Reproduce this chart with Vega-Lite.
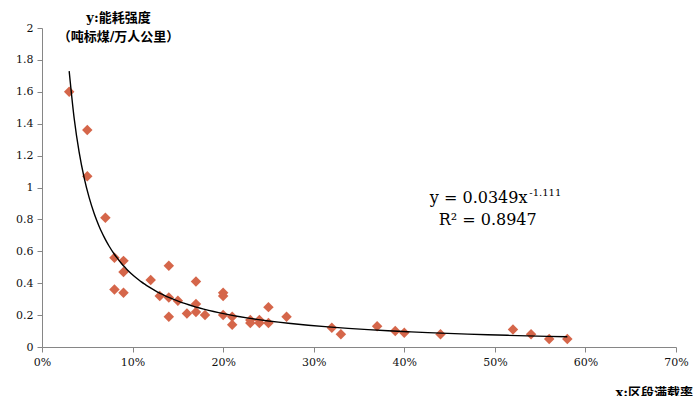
{
  "$schema": "https://vega.github.io/schema/vega-lite/v6.json",
  "width": 634,
  "height": 319,
  "autosize": "none",
  "padding": {"left": 42, "top": 28, "right": 17, "bottom": 49},
  "background": "white",
  "config": {
    "view": {"stroke": null},
    "font": "DejaVu Serif",
    "axis": {
      "grid": false,
      "domainColor": "#868686",
      "tickColor": "#868686",
      "labelFont": "DejaVu Serif",
      "labelFontSize": 11,
      "labelColor": "#111",
      "tickSize": 5,
      "labelFlush": false,
      "labelOverlap": false
    }
  },
  "datasets": {
    "pts": [
      {"x": 0.03, "y": 1.60}, {"x": 0.05, "y": 1.36}, {"x": 0.05, "y": 1.07}, {"x": 0.07, "y": 0.81},
      {"x": 0.08, "y": 0.56}, {"x": 0.08, "y": 0.36}, {"x": 0.09, "y": 0.54}, {"x": 0.09, "y": 0.47},
      {"x": 0.09, "y": 0.34}, {"x": 0.12, "y": 0.42}, {"x": 0.13, "y": 0.32}, {"x": 0.14, "y": 0.51},
      {"x": 0.14, "y": 0.31}, {"x": 0.14, "y": 0.19}, {"x": 0.15, "y": 0.29}, {"x": 0.16, "y": 0.21},
      {"x": 0.17, "y": 0.41}, {"x": 0.17, "y": 0.27}, {"x": 0.17, "y": 0.22}, {"x": 0.18, "y": 0.20},
      {"x": 0.20, "y": 0.34}, {"x": 0.20, "y": 0.32}, {"x": 0.20, "y": 0.20}, {"x": 0.21, "y": 0.19},
      {"x": 0.21, "y": 0.14}, {"x": 0.23, "y": 0.17}, {"x": 0.23, "y": 0.15}, {"x": 0.24, "y": 0.17},
      {"x": 0.24, "y": 0.15}, {"x": 0.25, "y": 0.25}, {"x": 0.25, "y": 0.15}, {"x": 0.27, "y": 0.19},
      {"x": 0.32, "y": 0.12}, {"x": 0.33, "y": 0.08}, {"x": 0.37, "y": 0.13}, {"x": 0.39, "y": 0.10},
      {"x": 0.40, "y": 0.09}, {"x": 0.44, "y": 0.08}, {"x": 0.52, "y": 0.11}, {"x": 0.54, "y": 0.08},
      {"x": 0.56, "y": 0.05}, {"x": 0.58, "y": 0.05}
    ],
    "notes": [
      {"x": 0.536, "y": 0.934, "label": "y = 0.0349x", "kind": "main"},
      {"x": 0.538, "y": 0.966, "label": "-1.111", "kind": "sup"},
      {"x": 0.438, "y": 0.796, "label": "R² = 0.8947", "kind": "r2"}
    ]
  },
  "layer": [
    {
      "data": {"name": "pts"},
      "mark": {"type": "point", "shape": "diamond", "filled": true, "size": 110, "color": "#D5664A", "opacity": 1},
      "encoding": {
        "x": {
          "field": "x", "type": "quantitative",
          "scale": {"domain": [0, 0.7], "nice": false, "zero": true},
          "axis": {
            "values": [0, 0.1, 0.2, 0.3, 0.4, 0.5, 0.6, 0.7],
            "tickCount": 20,
            "format": ".0%",
            "labelPadding": 4,
            "labelOverlap": false,
            "labelFlush": false,
            "title": "x:区段满载率",
            "titleFont": "DejaVu Serif, Noto Sans CJK SC",
            "titleFontWeight": "bold",
            "titleFontSize": 13,
            "titleColor": "#000",
            "titleAnchor": "start",
            "titleAlign": "left",
            "titleBaseline": "middle",
            "titleX": 573,
            "titleY": 45
          }
        },
        "y": {
          "field": "y", "type": "quantitative",
          "scale": {"domain": [0, 2], "nice": false},
          "axis": {
            "values": [0, 0.2, 0.4, 0.6, 0.8, 1, 1.2, 1.4, 1.6, 1.8, 2],
            "tickCount": 20,
            "format": ".1~f",
            "labelPadding": 4,
            "labelOverlap": false,
            "labelFlush": false,
            "title": ["y:能耗强度", "（吨标煤/万人公里）"],
            "titleFont": "DejaVu Serif, Noto Sans CJK SC",
            "titleFontWeight": "bold",
            "titleFontSize": 13,
            "titleColor": "#000",
            "titleAngle": 0,
            "titleAlign": "center",
            "titleBaseline": "middle",
            "titleLineHeight": 19,
            "titleX": 76,
            "titleY": -11
          }
        }
      }
    },
    {
      "data": {"name": "pts"},
      "transform": [
        {"regression": "y", "on": "x", "method": "pow", "extent": [0.03, 0.58]}
      ],
      "mark": {"type": "line", "color": "#000", "strokeWidth": 1.4, "interpolate": "monotone"},
      "encoding": {
        "x": {"field": "x", "type": "quantitative"},
        "y": {"field": "y", "type": "quantitative"}
      }
    },
    {
      "data": {"name": "notes"},
      "transform": [{"filter": "datum.kind == 'main'"}],
      "mark": {"type": "text", "align": "right", "baseline": "middle", "fontSize": 16, "font": "DejaVu Serif", "color": "#000"},
      "encoding": {
        "x": {"field": "x", "type": "quantitative"},
        "y": {"field": "y", "type": "quantitative"},
        "text": {"field": "label"}
      }
    },
    {
      "data": {"name": "notes"},
      "transform": [{"filter": "datum.kind == 'sup'"}],
      "mark": {"type": "text", "align": "left", "baseline": "middle", "fontSize": 10, "font": "DejaVu Serif", "color": "#000"},
      "encoding": {
        "x": {"field": "x", "type": "quantitative"},
        "y": {"field": "y", "type": "quantitative"},
        "text": {"field": "label"}
      }
    },
    {
      "data": {"name": "notes"},
      "transform": [{"filter": "datum.kind == 'r2'"}],
      "mark": {"type": "text", "align": "left", "baseline": "middle", "fontSize": 16, "font": "DejaVu Serif", "color": "#000"},
      "encoding": {
        "x": {"field": "x", "type": "quantitative"},
        "y": {"field": "y", "type": "quantitative"},
        "text": {"field": "label"}
      }
    }
  ]
}
